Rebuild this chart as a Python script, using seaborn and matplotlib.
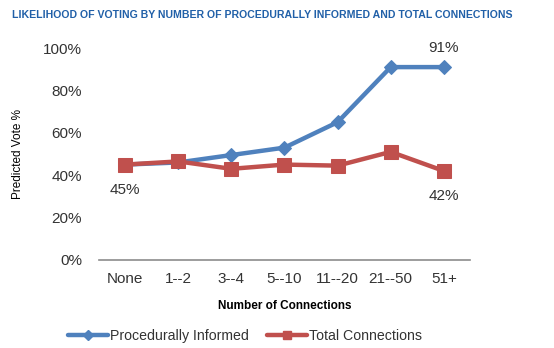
import matplotlib
matplotlib.use("Agg")
import matplotlib.pyplot as plt
import seaborn as sns
import pandas as pd
from matplotlib.lines import Line2D

categories = ["None", "1--2", "3--4", "5--10", "11--20", "21--50", "51+"]
procedurally_informed = [45, 46, 49.5, 53, 65, 91, 91]
total_connections = [45, 46.5, 43, 45, 44.5, 51, 42]
yticks = [0, 20, 40, 60, 80, 100]

blue = "#4F81BD"
red = "#C0504D"

df = pd.DataFrame({
    "cat": categories * 2,
    "x": list(range(len(categories))) * 2,
    "value": procedurally_informed + total_connections,
    "series": ["Procedurally Informed"] * len(categories) + ["Total Connections"] * len(categories),
})

sns.set_theme(style="white")
plt.rcParams["font.family"] = ["Liberation Sans", "DejaVu Sans"]

fig = plt.figure(figsize=(5.54, 3.48), dpi=100)
ax = fig.add_axes([0.178, 0.253, 0.671, 0.609])

sns.lineplot(data=df[df.series == "Procedurally Informed"], x="x", y="value",
             color=blue, lw=3.2, marker="D", markersize=7.5, markeredgecolor=blue,
             ax=ax, legend=False, zorder=2)
sns.lineplot(data=df[df.series == "Total Connections"], x="x", y="value",
             color=red, lw=3.2, marker="s", markersize=10.5, markeredgecolor=red,
             ax=ax, legend=False, zorder=3)

ax.set_xlim(-0.5, len(categories) - 0.5)
ax.set_ylim(0, 100)
ax.set_xticks(range(len(categories)))
ax.set_xticklabels(categories)
ax.set_yticks(yticks)
ax.set_yticklabels([f"{v}%" for v in yticks])
ax.tick_params(axis="both", length=0, labelsize=11, labelcolor="#333333")
ax.tick_params(axis="x", pad=9)
ax.tick_params(axis="y", pad=12)

for s in ["top", "right", "left"]:
    ax.spines[s].set_visible(False)
ax.spines["bottom"].set_color("#8c8c8c")
ax.spines["bottom"].set_linewidth(1.2)

ax.set_xlabel("Number of Connections", fontsize=8.5, fontweight="bold", color="black", labelpad=10)
ax.set_ylabel("Predicted Vote %", fontsize=8.5, color="black", labelpad=14)

# value annotations
ax.annotate(f"{total_connections[0]:.0f}%", (0, total_connections[0]), xytext=(0, -13),
            textcoords="offset points", ha="center", va="top", fontsize=11, color="#333333")
ax.annotate(f"{procedurally_informed[-1]:.0f}%", (6, procedurally_informed[-1]), xytext=(0, 9),
            textcoords="offset points", ha="center", va="bottom", fontsize=11, color="#333333")
ax.annotate(f"{total_connections[-1]:.0f}%", (6, total_connections[-1]), xytext=(0, -13),
            textcoords="offset points", ha="center", va="top", fontsize=11, color="#333333")

fig.text(0.022, 0.958, "LIKELIHOOD OF VOTING BY NUMBER OF PROCEDURALLY INFORMED AND TOTAL CONNECTIONS",
         fontsize=7.6, fontweight="bold", color="#2160A8", ha="left", va="center")

handles = [
    Line2D([0], [0], color=blue, lw=3.2, marker="D", markersize=5),
    Line2D([0], [0], color=red, lw=3.2, marker="s", markersize=6),
]
fig.legend(handles, ["Procedurally Informed", "Total Connections"], loc="center",
           bbox_to_anchor=(0.442, 0.035), ncol=2, frameon=False, fontsize=10.2,
           handlelength=2.8, handletextpad=0.15, columnspacing=1.3,
           labelcolor="#333333")

fig.savefig("out.png", dpi=100)
